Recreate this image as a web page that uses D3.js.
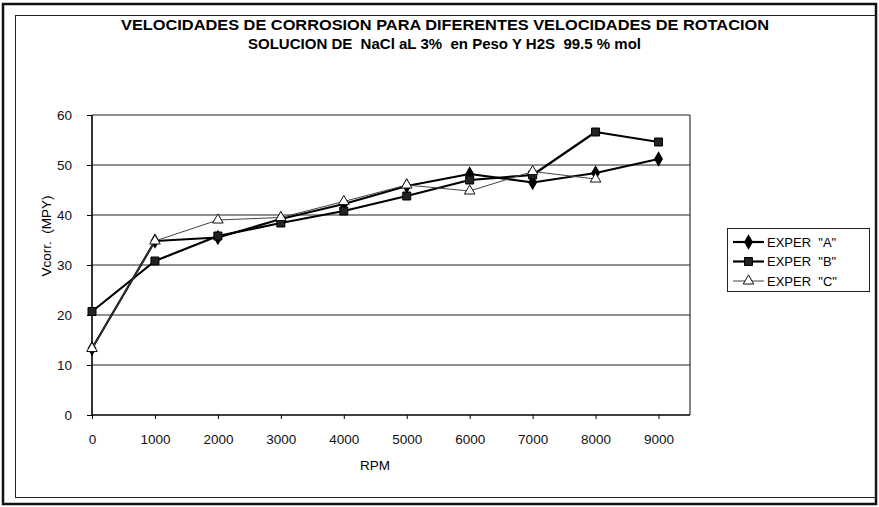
<!DOCTYPE html>
<html>
<head>
<meta charset="utf-8">
<script src="https://cdn.jsdelivr.net/npm/d3@7/dist/d3.min.js"></script>
<style>
  html, body { margin: 0; padding: 0; background: #fff; }
  svg { display: block; font-family: "Liberation Sans", Arial, sans-serif; }
</style>
</head>
<body>
<svg id="chart" width="879" height="507"></svg>
<script>
// Corrosion rate (MPY) at each rotation speed (RPM)
const rpm = [0, 1000, 2000, 3000, 4000, 5000, 6000, 7000, 8000, 9000];
const experA = [13.3, 34.8, 35.5, 39.2, 42.2, 45.8, 48.2, 46.5, 48.4, 51.2];
const experB = [20.7, 30.8, 35.8, 38.4, 40.8, 43.8, 47.0, 48.0, 56.6, 54.6];
const experC = [13.3, 34.8, 39.0, 39.5, 42.7, 46.0, 44.8, 48.7, 47.2, null];
const seriesNames = ['EXPER  "A"', 'EXPER  "B"', 'EXPER  "C"'];
const yTicks = [0, 10, 20, 30, 40, 50, 60];
const xTicks = [0, 1000, 2000, 3000, 4000, 5000, 6000, 7000, 8000, 9000];

const svg = d3.select("#chart");

// Double frame around the chart
svg.append("rect").attr("x", 3).attr("y", 4).attr("width", 873).attr("height", 500)
  .attr("fill", "none").attr("stroke", "#111").attr("stroke-width", 2.5);
svg.append("rect").attr("x", 15.5).attr("y", 15.5).attr("width", 860).attr("height", 482)
  .attr("fill", "none").attr("stroke", "#222").attr("stroke-width", 1);

// Titles
svg.append("text").attr("x", 445).attr("y", 30).attr("text-anchor", "middle")
  .attr("font-weight", "bold").attr("font-size", 15.5)
  .attr("textLength", 648).attr("lengthAdjust", "spacingAndGlyphs")
  .text("VELOCIDADES DE CORROSION PARA DIFERENTES VELOCIDADES DE ROTACION");
svg.append("text").attr("x", 444.5).attr("y", 49).attr("text-anchor", "middle")
  .attr("font-weight", "bold").attr("font-size", 15)
  .attr("textLength", 393).attr("lengthAdjust", "spacingAndGlyphs")
  .attr("xml:space", "preserve")
  .text("SOLUCION DE  NaCl aL 3%  en Peso Y H2S  99.5 % mol");

// Plot scales
const x = d3.scaleLinear().domain([0, 9500]).range([92, 690]);
const y = d3.scaleLinear().domain([0, 60]).range([415, 115]);

// Horizontal gridlines
svg.append("g").selectAll("line").data(yTicks.filter(d => d > 0)).join("line")
  .attr("x1", x(0)).attr("x2", x(9500))
  .attr("y1", d => y(d)).attr("y2", d => y(d))
  .attr("stroke", "#222").attr("stroke-width", 1);

// Right border of plot area
svg.append("line").attr("x1", x(9500)).attr("x2", x(9500))
  .attr("y1", y(60)).attr("y2", y(0)).attr("stroke", "#333").attr("stroke-width", 1.2);

// Axes
const yAxis = d3.axisLeft(y).tickValues(yTicks).tickSize(5).tickPadding(15);
const gy = svg.append("g").attr("transform", `translate(${x(0)},0)`).call(yAxis);
const xAxis = d3.axisBottom(x).tickValues(xTicks).tickSize(4).tickPadding(15).tickFormat(d3.format("d"));
const gx = svg.append("g").attr("transform", `translate(0,${y(0)})`).call(xAxis);
[gx, gy].forEach(g => {
  g.select(".domain").attr("stroke", "#000").attr("stroke-width", 1.6);
  g.selectAll(".tick line").attr("stroke", "#000");
  g.selectAll(".tick text").attr("font-size", 13.5).attr("fill", "#111")
    .attr("font-family", "'Liberation Sans', Arial, sans-serif");
});
gx.select(".domain").attr("d", `M${x(0)},0H${x(9500)}`);
gy.select(".domain").attr("d", `M0,${y(0)}V${y(60)}`);

// Axis titles
svg.append("text").attr("x", 375).attr("y", 470).attr("text-anchor", "middle")
  .attr("font-size", 13.5).text("RPM");
svg.append("text").attr("transform", "translate(51,236) rotate(-90)")
  .attr("text-anchor", "middle").attr("font-size", 13.5)
  .attr("xml:space", "preserve").text("Vcorr.  (MPY)");

// Series
const series = [
  { name: seriesNames[0], values: experA, width: 2.2, color: "#000", marker: "diamond" },
  { name: seriesNames[1], values: experB, width: 2.2, color: "#000", marker: "square" },
  { name: seriesNames[2], values: experC, width: 1, color: "#444", marker: "triangle" }
];

const symbolFor = {
  diamond: d3.symbol().type(d3.symbolDiamond).size(70),
  square: d3.symbol().type(d3.symbolSquare).size(64),
  triangle: d3.symbol().type(d3.symbolTriangle).size(48)
};

function drawMarker(g, kind, cx, cy) {
  const p = g.append("path").attr("d", symbolFor[kind]())
    .attr("transform", `translate(${cx},${cy})`);
  if (kind === "triangle") {
    p.attr("fill", "#fff").attr("stroke", "#111").attr("stroke-width", 1);
  } else if (kind === "square") {
    p.attr("fill", "#222").attr("stroke", "#000").attr("stroke-width", 1);
  } else {
    p.attr("fill", "#000");
  }
}

const line = d3.line().defined(d => d.v != null).x(d => x(d.r)).y(d => y(d.v));

series.forEach(s => {
  const pts = rpm.map((r, i) => ({ r, v: s.values[i] }));
  const g = svg.append("g");
  g.append("path").datum(pts).attr("d", line)
    .attr("fill", "none").attr("stroke", s.color).attr("stroke-width", s.width)
    .attr("stroke-linejoin", "round");
  pts.filter(d => d.v != null).forEach(d => drawMarker(g, s.marker, x(d.r), y(d.v)));
});

// Legend
const lg = svg.append("g");
lg.append("rect").attr("x", 727.5).attr("y", 228.5).attr("width", 142).attr("height", 63)
  .attr("fill", "#fff").attr("stroke", "#222").attr("stroke-width", 1);
series.forEach((s, i) => {
  const cy = 242 + i * 19.5;
  lg.append("line").attr("x1", 733).attr("x2", 764).attr("y1", cy).attr("y2", cy)
    .attr("stroke", s.color).attr("stroke-width", s.width);
  drawMarker(lg, s.marker, 748.5, cy);
  lg.append("text").attr("x", 767).attr("y", cy + 4.5).attr("font-size", 13)
    .attr("xml:space", "preserve").text(s.name);
});
</script>
</body>
</html>
